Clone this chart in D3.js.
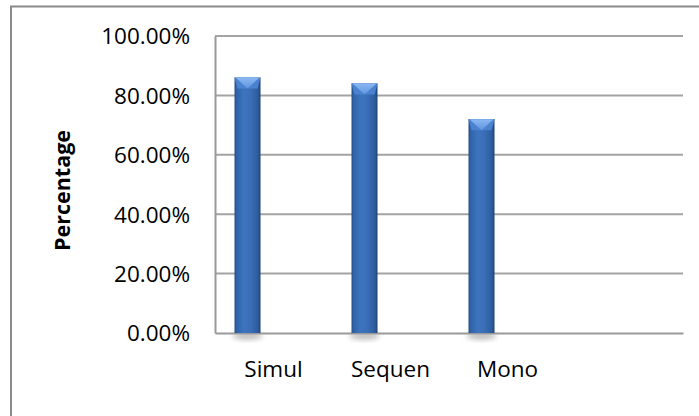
<!DOCTYPE html>
<html>
<head>
<meta charset="utf-8">
<script src="https://cdn.jsdelivr.net/npm/d3@7"></script>
<style>
  html, body { margin: 0; padding: 0; background: #fff; }
  svg { display: block; }
  text { font-family: "Open Sans", "Liberation Sans", sans-serif; fill: #000; }
</style>
</head>
<body>
<svg id="chart" width="699" height="416"></svg>
<script>
// Share of cases per method; the fourth slot on the axis is left empty
const categories = ["Simul", "Sequen", "Mono", ""];
const seriesNames = ["Percentage", "s2", "s3"];
const values = [0.86, 0.84, 0.72, null];
const yTicks = [0, 0.2, 0.4, 0.6, 0.8, 1.0];
const yLabel = "Percentage";

const svg = d3.select("#chart");
const W = 699, H = 416;
const plot = { left: 215, right: 683, top: 36, bottom: 333 };

// outer chart frame (extends past the right and bottom edges)
svg.append("rect")
  .attr("x", 11).attr("y", 6.5)
  .attr("width", W + 20).attr("height", H + 20)
  .attr("fill", "none").attr("stroke", "#8a8a8a").attr("stroke-width", 2);

const x = d3.scaleBand().domain(categories).range([plot.left, plot.right]).padding(0);
// each category holds three series slots; only the first carries data
const xs = d3.scaleBand().domain(seriesNames).range([0, x.bandwidth()])
  .paddingInner(0).paddingOuter(0.75);
const y = d3.scaleLinear().domain([0, 1]).range([plot.bottom, plot.top]);

const defs = svg.append("defs");
const grad = defs.append("linearGradient").attr("id", "barBody")
  .attr("x1", "0").attr("x2", "1").attr("y1", "0").attr("y2", "0");
[[0, "#234d86"], [0.08, "#2f62a8"], [0.35, "#3e74be"], [0.6, "#3a6fb8"], [0.9, "#2d5c9e"], [1, "#1e4272"]]
  .forEach(([o, c]) => grad.append("stop").attr("offset", o).attr("stop-color", c));
const capGrad = defs.append("linearGradient").attr("id", "capLight")
  .attr("x1", "0").attr("x2", "0").attr("y1", "0").attr("y2", "1");
capGrad.append("stop").attr("offset", 0).attr("stop-color", "#8ab8f2");
capGrad.append("stop").attr("offset", 1).attr("stop-color", "#5f95df");
const shadow = defs.append("filter").attr("id", "shadow")
  .attr("x", "-30%").attr("y", "-30%").attr("width", "160%").attr("height", "160%");
shadow.append("feGaussianBlur").attr("stdDeviation", 2.5);

// gridlines
const grid = svg.append("g");
grid.selectAll("line").data(yTicks.filter(d => d > 0)).join("line")
  .attr("x1", plot.left).attr("x2", plot.right)
  .attr("y1", d => y(d)).attr("y2", d => y(d))
  .attr("stroke", "#a3a3a3").attr("stroke-width", 2);

// y axis
const yAxis = svg.append("g").attr("transform", `translate(${plot.left},0)`)
  .call(d3.axisLeft(y).tickValues(yTicks).tickSize(0).tickPadding(25)
    .tickFormat(d => (d * 100).toFixed(2) + "%"));
yAxis.select(".domain").attr("stroke", "#9a9a9a").attr("stroke-width", 2);
yAxis.selectAll("text").style("font-size", "22.5px").attr("dy", "0.35em");

// bar shadows
const data = categories.map((c, i) => ({ c, v: values[i] })).filter(d => d.v != null);
const bx = d => x(d.c) + xs(seriesNames[0]);
const bw = xs.bandwidth();
svg.append("g").selectAll("ellipse").data(data).join("ellipse")
  .attr("cx", d => bx(d) + bw / 2).attr("cy", plot.bottom + 3)
  .attr("rx", bw / 2 + 2).attr("ry", 4)
  .attr("fill", "#9a9a9a").attr("opacity", 0.6).attr("filter", "url(#shadow)");

// x axis
const xAxis = svg.append("g").attr("transform", `translate(0,${plot.bottom})`)
  .call(d3.axisBottom(x).tickSize(0).tickPadding(28));
xAxis.select(".domain").attr("stroke", "#9a9a9a").attr("stroke-width", 2);
xAxis.selectAll("text").style("font-size", "22.5px");

// bars with bevelled tops
const bars = svg.append("g").selectAll("g").data(data).join("g");
bars.append("rect")
  .attr("x", d => bx(d)).attr("y", d => y(d.v))
  .attr("width", bw).attr("height", d => y(0) - y(d.v))
  .attr("fill", "url(#barBody)");
const capH = 11;
bars.append("path")
  .attr("d", d => {
    const x0 = bx(d), x1 = x0 + bw, t = y(d.v);
    return `M${x0},${t}L${x1},${t}L${x1 - 3},${t + capH}L${x0 + 3},${t + capH}Z`;
  })
  .attr("fill", "#4a82d0");
bars.append("path")
  .attr("d", d => {
    const x0 = bx(d), x1 = x0 + bw, t = y(d.v);
    return `M${x0 + 1},${t}L${x1 - 1},${t}L${(x0 + x1) / 2},${t + capH}Z`;
  })
  .attr("fill", "url(#capLight)");

// y axis title
svg.append("text")
  .attr("transform", `translate(70,${(plot.top + plot.bottom) / 2 + 6}) rotate(-90)`)
  .attr("text-anchor", "middle")
  .style("font-size", "21.5px").style("font-weight", "bold")
  .text(yLabel);
</script>
</body>
</html>
